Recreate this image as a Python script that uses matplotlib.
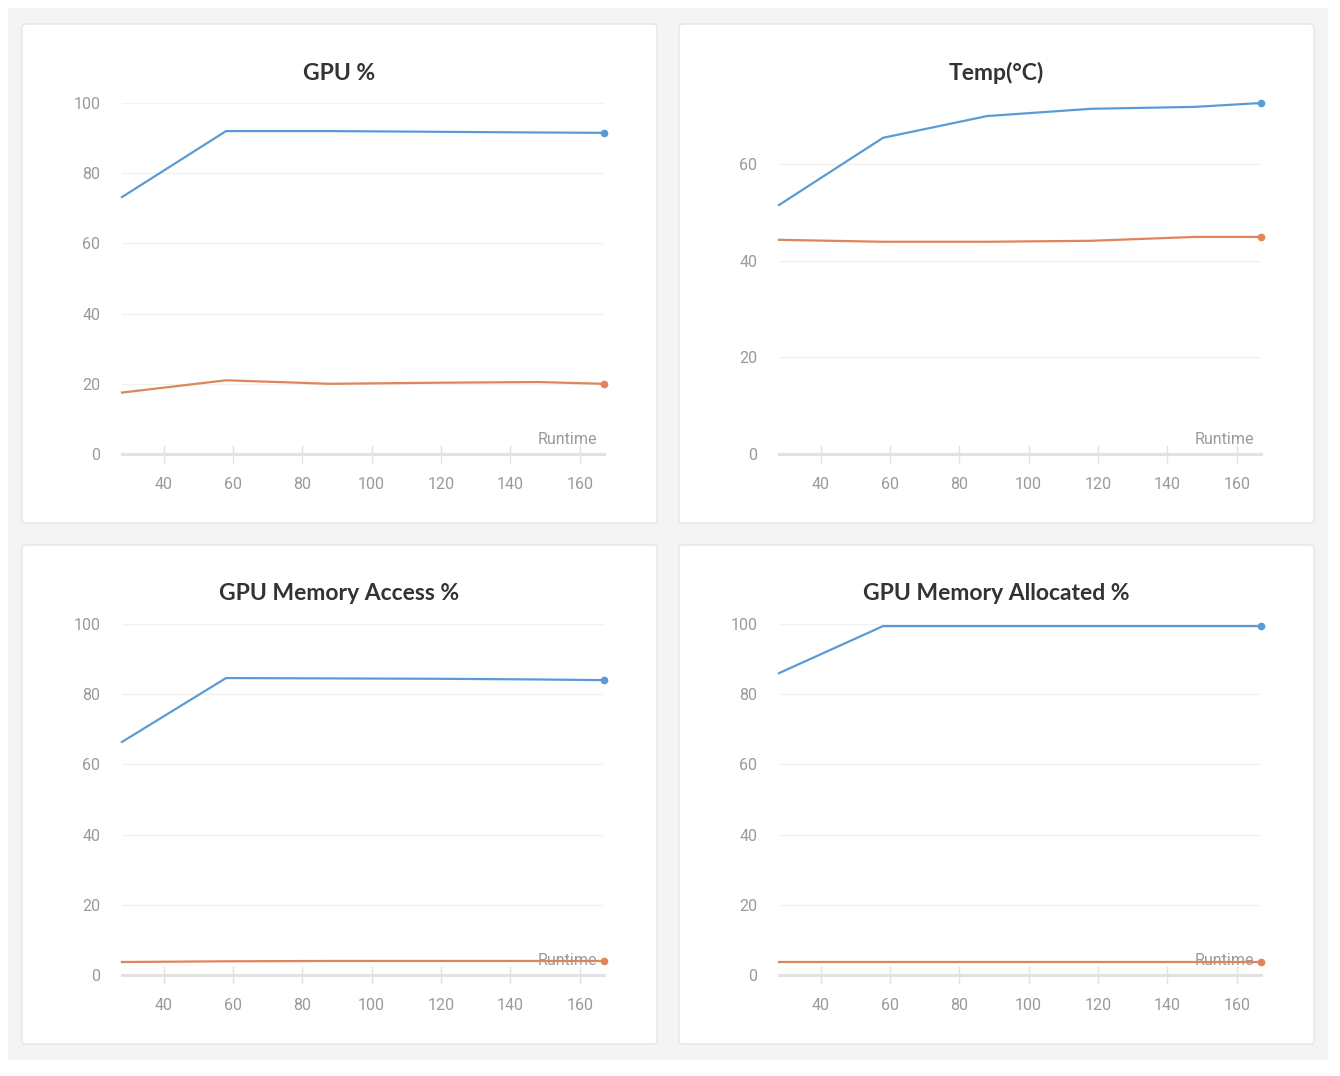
import matplotlib
matplotlib.use("Agg")
import matplotlib.pyplot as plt
from matplotlib.patches import FancyBboxPatch, Rectangle
from matplotlib import font_manager

# runtime samples shared by all panels
runtime = [28, 58, 88, 118, 148, 167]

gpu_blue = [73.2, 92.0, 92.0, 91.8, 91.6, 91.5]
gpu_orange = [17.5, 21.0, 20.0, 20.3, 20.5, 20.0]

temp_blue = [51.5, 65.4, 69.9, 71.4, 71.8, 72.6]
temp_orange = [44.3, 43.9, 43.9, 44.1, 44.9, 44.9]

mem_access_blue = [66.4, 84.6, 84.5, 84.4, 84.2, 84.0]
mem_access_orange = [3.7, 3.9, 4.0, 4.0, 4.0, 4.0]

mem_alloc_blue = [86.0, 99.4, 99.4, 99.4, 99.4, 99.4]
mem_alloc_orange = [3.7, 3.7, 3.7, 3.7, 3.7, 3.7]

titles = ["GPU %", "Temp(°C)", "GPU Memory Access %", "GPU Memory Allocated %"]
x_ticks = [40, 60, 80, 100, 120, 140, 160]
y_ticks = [[0, 20, 40, 60, 80, 100], [0, 20, 40, 60],
           [0, 20, 40, 60, 80, 100], [0, 20, 40, 60, 80, 100]]

BLUE = "#5b9bd5"
ORANGE = "#e0845a"

avail = {f.name for f in font_manager.fontManager.ttflist}
tick_font = "Liberation Sans Narrow" if "Liberation Sans Narrow" in avail else "Roboto"
title_font = "Lato"

W, H = 1340, 1076
fig = plt.figure(figsize=(W / 100, H / 100), dpi=100)
fig.patch.set_facecolor("white")


def fx(px):
    return px / W


def fy(py):
    return 1 - py / H


# grey page background
fig.patches.append(Rectangle((fx(8), fy(1060)), fx(1320), (1052) / H,
                             transform=fig.transFigure, facecolor="#f4f4f4",
                             edgecolor="none", zorder=0))

panels = [
    (22, 24, gpu_blue, gpu_orange, 100),
    (679, 24, temp_blue, temp_orange, max(temp_blue)),
    (22, 545, mem_access_blue, mem_access_orange, 100),
    (679, 545, mem_alloc_blue, mem_alloc_orange, 100),
]

for i, (px, py, blue, orange, ytop) in enumerate(panels):
    # white card
    fig.patches.append(FancyBboxPatch((fx(px), fy(py + 499)), fx(635), 499 / H,
                                      boxstyle="round,pad=0,rounding_size=0.003",
                                      transform=fig.transFigure, facecolor="white",
                                      edgecolor="#e6e6e6", linewidth=1, zorder=1))

    ax_left = px + 100
    ax = fig.add_axes([fx(ax_left), fy(py + 430), fx(482), 351 / H])
    ax.set_zorder(2)
    ax.patch.set_alpha(0)

    ax.plot(runtime, blue, color=BLUE, lw=1.6, clip_on=False, zorder=3)
    ax.plot(runtime, orange, color=ORANGE, lw=1.6, clip_on=False, zorder=3)
    ax.plot(runtime[-1], blue[-1], "o", color=BLUE, ms=4.5, clip_on=False, zorder=4)
    ax.plot(runtime[-1], orange[-1], "o", color=ORANGE, ms=4.5, clip_on=False, zorder=4)

    ax.set_xlim(runtime[0], runtime[-1])
    ax.set_ylim(0, ytop)
    ax.set_xticks(x_ticks)
    ax.set_yticks(y_ticks[i])

    for s in ["top", "right", "left"]:
        ax.spines[s].set_visible(False)
    ax.spines["bottom"].set_color("#e2e2e2")
    ax.spines["bottom"].set_linewidth(2.2)

    ax.grid(axis="y", color="#f1f1f1", lw=1)
    ax.set_axisbelow(True)
    ax.tick_params(axis="x", direction="inout", length=13, width=1, color="#e2e2e2",
                   labelcolor="#9a9a9a", labelsize=11.5, pad=10)
    ax.tick_params(axis="y", length=0, labelcolor="#9a9a9a", labelsize=11.5, pad=15.5)
    for lab in ax.get_xticklabels() + ax.get_yticklabels():
        lab.set_fontfamily(tick_font)

    ax.text(0.985, 0.02, "Runtime", transform=ax.transAxes, ha="right", va="bottom",
            color="#9a9a9a", fontsize=11.5, family=tick_font, zorder=2)

    fig.text(fx(px + 317), fy(py + 49), titles[i], ha="center", va="center",
             fontsize=16.5, fontweight="bold", color="#333333", family=title_font)

fig.savefig("out.png", dpi=100, facecolor="white")
